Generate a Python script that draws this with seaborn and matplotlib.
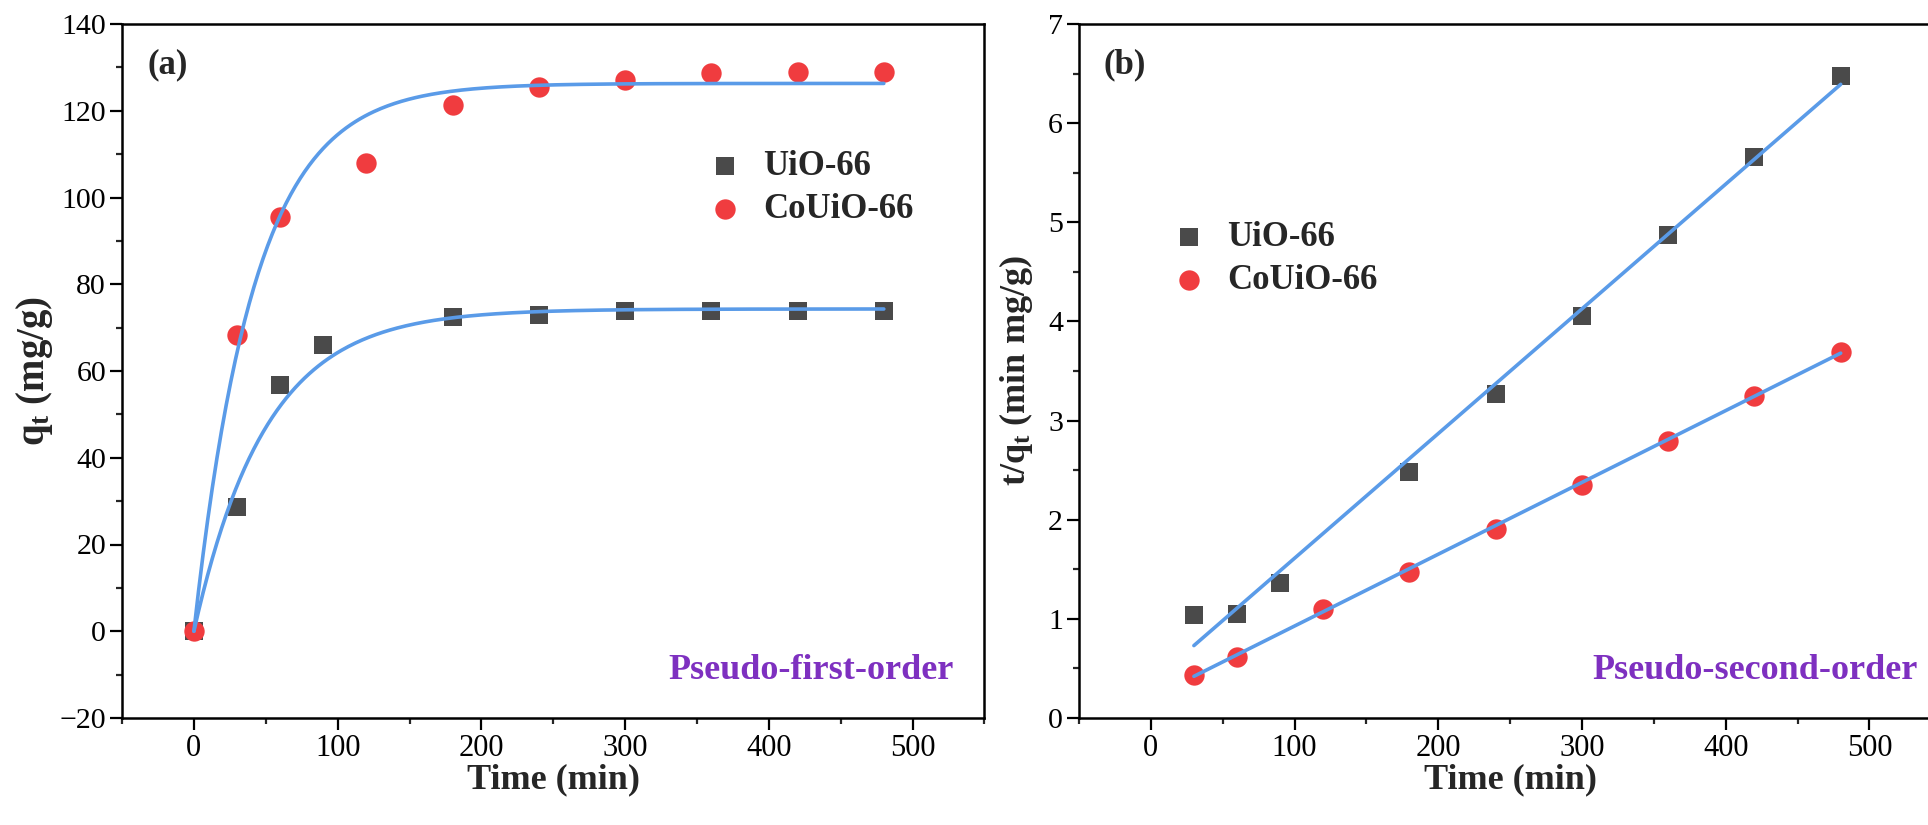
import numpy as np
import pandas as pd
import matplotlib
matplotlib.use('Agg')
import matplotlib.pyplot as plt
import seaborn as sns
from matplotlib.ticker import MultipleLocator

# ---------------- data ----------------
series_names = ["UiO-66", "CoUiO-66"]

# (a) pseudo-first-order: q_t vs time
time_uio_a = [0, 30, 60, 90, 180, 240, 300, 360, 420, 480]
qt_uio = [0, 28.7, 56.8, 65.9, 72.4, 73.0, 73.9, 73.9, 73.9, 73.9]
time_co_a = [0, 30, 60, 120, 180, 240, 300, 360, 420, 480]
qt_co = [0, 68.4, 95.6, 108.0, 121.4, 125.4, 127.0, 128.7, 129.0, 129.0]
# fitted pseudo-first-order parameters (qe, k1)
pfo_qe = [74.3, 126.3]
pfo_k1 = [0.0200, 0.0237]

# (b) pseudo-second-order: t/q_t vs time
time_uio_b = [30, 60, 90, 180, 240, 300, 360, 420, 480]
tq_uio = [1.04, 1.05, 1.36, 2.48, 3.27, 4.05, 4.87, 5.66, 6.48]
time_co_b = [30, 60, 120, 180, 240, 300, 360, 420, 480]
tq_co = [0.43, 0.62, 1.10, 1.47, 1.91, 2.35, 2.79, 3.25, 3.69]
# linear fit parameters (slope, intercept)
pso_slope = [0.01258, 0.007244]
pso_intercept = [0.353, 0.203]
fit_range_a = [0, 480]
fit_range_b = [30, 480]

# ---------------- style ----------------
sns.set_style("ticks")
plt.rcParams['font.family'] = ['Liberation Serif', 'DejaVu Serif']
plt.rcParams['mathtext.fontset'] = 'custom'
plt.rcParams['mathtext.rm'] = 'Liberation Serif'
plt.rcParams['mathtext.bf'] = 'Liberation Serif:bold'
plt.rcParams['mathtext.it'] = 'Liberation Serif:italic'

c_gray = '#4a4a4a'
c_red = '#f03c3f'
c_blue = '#5a9be8'
c_purple = '#7e30c0'

fig = plt.figure(figsize=(19.28, 8.25), dpi=100)
ax_a = fig.add_axes([0.0633, 0.1297, 0.4473, 0.8412])
ax_b = fig.add_axes([0.5596, 0.1297, 0.4473, 0.8412])


def style_axes(ax):
    for s in ax.spines.values():
        s.set_linewidth(1.8)
        s.set_color('black')
    ax.tick_params(which='major', direction='out', length=8.5, width=1.6,
                   pad=3, top=False, right=False, colors='black')
    ax.tick_params(which='minor', direction='out', length=4.5, width=1.6,
                   top=False, right=False)
    ax.tick_params(axis='x', which='major', labelsize=22)
    ax.tick_params(axis='y', which='major', labelsize=21.5)
    ax.xaxis.set_major_locator(MultipleLocator(100))
    ax.xaxis.set_minor_locator(MultipleLocator(50))
    ax.set_xlim(-50, 550)
    ax.grid(False)


leg_kw = dict(loc='upper left', frameon=False, prop={'weight': 'bold', 'size': 25},
              handlelength=1.0, handletextpad=0.6, labelspacing=0.28, borderaxespad=0)

# ---- panel (a)
df_ua = pd.DataFrame({'t': time_uio_a, 'q': qt_uio})
df_ca = pd.DataFrame({'t': time_co_a, 'q': qt_co})
sns.scatterplot(data=df_ua, x='t', y='q', ax=ax_a, marker='s', s=175, color=c_gray,
                linewidth=0, label=series_names[0], zorder=3)
sns.scatterplot(data=df_ca, x='t', y='q', ax=ax_a, marker='o', s=215, color=c_red,
                linewidth=0, label=series_names[1], zorder=3)
t_fit = np.linspace(fit_range_a[0], fit_range_a[1], 300)
for qe, k in zip(pfo_qe, pfo_k1):
    df_fit = pd.DataFrame({'t': t_fit, 'q': qe * (1 - np.exp(-k * t_fit))})
    sns.lineplot(data=df_fit, x='t', y='q', ax=ax_a, color=c_blue, linewidth=2.6,
                 legend=False, zorder=4)
style_axes(ax_a)
ax_a.set_ylim(-20, 140)
ax_a.yaxis.set_major_locator(MultipleLocator(20))
ax_a.yaxis.set_minor_locator(MultipleLocator(10))
ax_a.set_xlabel('Time (min)', fontsize=26, fontweight='bold', labelpad=0)
ax_a.set_ylabel(r'$\mathbf{q_t}$ (mg/g)', fontsize=28, fontweight='bold', labelpad=3)
ax_a.text(0.029, 0.965, '(a)', transform=ax_a.transAxes, fontsize=25,
          fontweight='bold', ha='left', va='top')
ax_a.text(0.964, 0.056, 'Pseudo-first-order', transform=ax_a.transAxes, fontsize=26,
          fontweight='bold', color=c_purple, ha='right', va='baseline')
ax_a.legend(bbox_to_anchor=(0.663, 0.838), **leg_kw)

# ---- panel (b)
df_ub = pd.DataFrame({'t': time_uio_b, 'q': tq_uio})
df_cb = pd.DataFrame({'t': time_co_b, 'q': tq_co})
sns.scatterplot(data=df_ub, x='t', y='q', ax=ax_b, marker='s', s=175, color=c_gray,
                linewidth=0, label=series_names[0], zorder=3)
sns.scatterplot(data=df_cb, x='t', y='q', ax=ax_b, marker='o', s=215, color=c_red,
                linewidth=0, label=series_names[1], zorder=3)
t_lin = np.array(fit_range_b, dtype=float)
for m, b in zip(pso_slope, pso_intercept):
    df_fit = pd.DataFrame({'t': t_lin, 'q': m * t_lin + b})
    sns.lineplot(data=df_fit, x='t', y='q', ax=ax_b, color=c_blue, linewidth=2.6,
                 legend=False, zorder=4)
style_axes(ax_b)
ax_b.set_ylim(0, 7)
ax_b.yaxis.set_major_locator(MultipleLocator(1))
ax_b.yaxis.set_minor_locator(MultipleLocator(0.5))
ax_b.set_xlabel('Time (min)', fontsize=26, fontweight='bold', labelpad=0)
ax_b.set_ylabel(r't/$\mathbf{q_t}$ (min mg/g)', fontsize=26, fontweight='bold', labelpad=9)
ax_b.text(0.028, 0.965, '(b)', transform=ax_b.transAxes, fontsize=25,
          fontweight='bold', ha='left', va='top')
ax_b.text(0.973, 0.056, 'Pseudo-second-order', transform=ax_b.transAxes, fontsize=26,
          fontweight='bold', color=c_purple, ha='right', va='baseline')
ax_b.legend(bbox_to_anchor=(0.091, 0.736), **leg_kw)

fig.savefig('out.png', dpi=100)
